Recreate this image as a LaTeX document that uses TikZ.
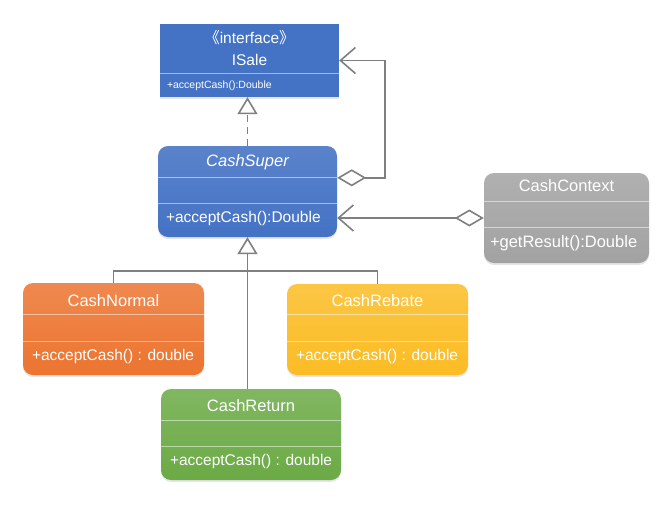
\documentclass[tikz,border=0pt]{standalone}
\usepackage{fontspec}
\setmainfont{Liberation Sans}
\newfontfamily\cjkfont{Noto Sans CJK SC}
\usetikzlibrary{arrows.meta,calc,shadows}

\definecolor{saleblue}{HTML}{4472C4}
\definecolor{normalorange}{HTML}{EC7430}
\definecolor{rebateyellow}{HTML}{FBBC24}
\definecolor{returngreen}{HTML}{6BAA45}
\definecolor{contextgray}{HTML}{A2A2A2}
\definecolor{linegray}{HTML}{7F7F7F}

\tikzstyle{classbox}=[rounded corners=10pt, inner sep=0pt, minimum width=180pt, minimum height=91pt,
    drop shadow={opacity=0.2, shadow xshift=0pt, shadow yshift=-2pt}]
\tikzstyle{boxname}=[text=white, inner sep=0pt, font=\fontsize{16.5}{19}\selectfont]
\tikzstyle{boxop}=[boxname, anchor=west, font=\fontsize{15.5}{18}\selectfont]
\tikzstyle{divider}=[draw=white, draw opacity=0.5, line width=0.8pt]
\tikzstyle{link}=[draw=linegray, line width=1.6pt]
\tikzstyle{inherit}=[link, -{Triangle[open, length=17pt, width=20pt]}]
\tikzstyle{realize}=[inherit, dash pattern=on 7pt off 5pt]
\tikzstyle{aggr}=[link, {Diamond[open, length=29pt, width=17pt]}-{Straight Barb[length=15pt, width=26pt]}]

% dividers of a class box: node, first and second offset from the top
\newcommand{\splitlines}[3]{%
  \draw[divider] ($(#1.north west)+(0,#2)$) -- ($(#1.north east)+(0,#2)$);
  \draw[divider] ($(#1.north west)+(0,#3)$) -- ($(#1.north east)+(0,#3)$);}

\begin{document}
\begin{tikzpicture}[x=1pt, y=-1pt]
	\useasboundingbox (0,0) rectangle (670,507);

	% Define the nodes in the picture
	\node (isale) [classbox, rounded corners=0pt, drop shadow={opacity=0}, fill=saleblue, minimum width=179pt, minimum height=73pt] at (249.5,60.5) {};
	\node (super) [classbox, top color=saleblue!88!white, bottom color=saleblue, minimum width=179pt] at (247.5,191.5) {};
	\node (context) [classbox, top color=contextgray!85!white, bottom color=contextgray, minimum width=165pt, minimum height=90pt] at (566.5,218) {};
	\node (normal) [classbox, top color=normalorange!85!white, bottom color=normalorange, minimum width=181pt, minimum height=92pt] at (113.5,329) {};
	\node (rebate) [classbox, top color=rebateyellow!85!white, bottom color=rebateyellow, minimum width=181pt] at (377.5,329.5) {};
	\node (cashreturn) [classbox, top color=returngreen!85!white, bottom color=returngreen] at (251,434.5) {};

	\draw[divider] ($(isale.north west)+(0,50)$) -- ($(isale.north east)+(0,50)$);
	\splitlines{super}{32}{58}
	\splitlines{context}{29}{55}
	\splitlines{normal}{32}{59}
	\splitlines{rebate}{31}{58}
	\splitlines{cashreturn}{32}{58}

	% Define the texts in the boxes
	\node (isale_stereo) [boxname, font=\fontsize{15.5}{18}\selectfont] at ($(isale.north)+(0,14)$) {{\cjkfont 《}interface{\cjkfont 》}};
	\node (isale_name) [boxname, font=\fontsize{15.5}{18}\selectfont] at ($(isale.north)+(0,36)$) {ISale};
	\node (isale_op) [boxop, font=\fontsize{10.5}{12}\selectfont] at ($(isale.north west)+(7,62)$) {+acceptCash():Double};
	\node (super_name) [boxname, font=\fontsize{16.5}{19}\itshape] at ($(super.north)+(0,16)$) {CashSuper};
	\node (super_op) [boxop] at ($(super.north west)+(8,73)$) {+acceptCash():Double};
	\node (context_name) [boxname] at ($(context.north)+(0,13)$) {CashContext};
	\node (context_op) [boxop, font=\fontsize{16.5}{19}\selectfont] at ($(context.north west)+(6,70)$) {+getResult():Double};
	\node (normal_name) [boxname] at ($(normal.north)+(0,18)$) {CashNormal};
	\node (normal_op) [boxop] at ($(normal.north west)+(9,74)$) {+acceptCash() : double};
	\node (rebate_name) [boxname] at ($(rebate.north)+(0,17)$) {CashRebate};
	\node (rebate_op) [boxop] at ($(rebate.north west)+(9,73)$) {+acceptCash() : double};
	\node (return_name) [boxname] at ($(cashreturn.north)+(0,17)$) {CashReturn};
	\node (return_op) [boxop] at ($(cashreturn.north west)+(9,73)$) {+acceptCash() : double};
	\coordinate (joint) at (247,271);

	% Define the edges in the picture
	\draw[realize] (super.north) -- (super.north |- isale.south);
	\draw[aggr] ($(super.north east)+(0,32)$) -- ++(48,0) |- (isale.east);
	\draw[aggr] (context.west) -- (context.west -| super.east);
	\draw[link] (normal.north) |- (joint) -| (rebate.north);
	\draw[inherit] (super.south |- cashreturn.north) -- (super.south);
\end{tikzpicture}
\end{document}
